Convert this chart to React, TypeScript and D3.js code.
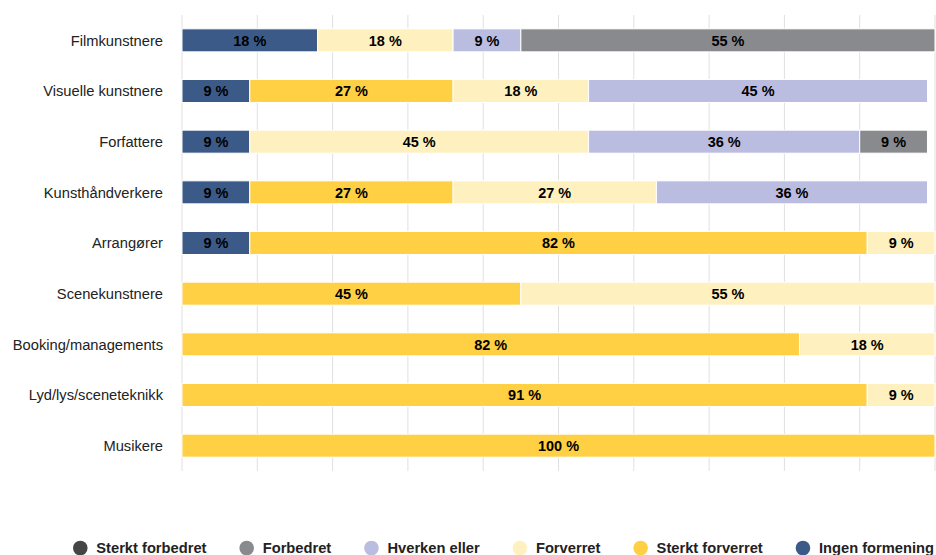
import React from "react";
import * as d3 from "d3";

const categories = [
  "Filmkunstnere",
  "Visuelle kunstnere",
  "Forfattere",
  "Kunsthåndverkere",
  "Arrangører",
  "Scenekunstnere",
  "Booking/managements",
  "Lyd/lys/sceneteknikk",
  "Musikere",
];

const ingenFormening = [18, 9, 9, 9, 9, 0, 0, 0, 0];
const sterktForverret = [0, 27, 0, 27, 82, 45, 82, 91, 100];
const forverret = [18, 18, 45, 27, 9, 55, 18, 9, 0];
const hverkenEller = [9, 45, 36, 36, 0, 0, 0, 0, 0];
const forbedret = [55, 0, 9, 0, 0, 0, 0, 0, 0];
const sterktForbedret = [0, 0, 0, 0, 0, 0, 0, 0, 0];

const stackKeys = [
  "Ingen formening",
  "Sterkt forverret",
  "Forverret",
  "Hverken eller",
  "Forbedret",
  "Sterkt forbedret",
];
const seriesValues: Record<string, number[]> = {
  "Ingen formening": ingenFormening,
  "Sterkt forverret": sterktForverret,
  Forverret: forverret,
  "Hverken eller": hverkenEller,
  Forbedret: forbedret,
  "Sterkt forbedret": sterktForbedret,
};
const legendOrder = [
  "Sterkt forbedret",
  "Forbedret",
  "Hverken eller",
  "Forverret",
  "Sterkt forverret",
  "Ingen formening",
];
const colors: Record<string, string> = {
  "Sterkt forbedret": "#454545",
  Forbedret: "#898a8e",
  "Hverken eller": "#babce0",
  Forverret: "#fff0bf",
  "Sterkt forverret": "#ffcf44",
  "Ingen formening": "#3b5a88",
};
const xTicks = [0, 10, 20, 30, 40, 50, 60, 70, 80, 90, 100];

const W = 936;
const H = 555;
const FONT = "'Liberation Sans', Arial, sans-serif";
const FS = 14.7;

function measure(text: string, font: string): number {
  const c = document.createElement("canvas");
  const ctx = c.getContext("2d");
  if (!ctx) return text.length * 8;
  ctx.font = font;
  return ctx.measureText(text).width;
}

export default function App() {
  const x = d3.scaleLinear().domain([0, 100]).range([182, 935]);
  const y = d3.scaleBand<string>().domain(categories).range([15, 471]).padding(0);
  const barH = 23;

  const rows = categories.map((c, i) => {
    const r: Record<string, any> = { category: c };
    stackKeys.forEach((k) => (r[k] = seriesValues[k][i]));
    return r;
  });
  const stacked = d3.stack<Record<string, any>>().keys(stackKeys)(rows);

  // legend layout
  const legendFont = `bold ${FS}px ${FONT}`;
  const r = 7.3;
  const textOff = 16;
  const widths = legendOrder.map((k) => measure(k, legendFont));
  const left = 73;
  const right = 934;
  const itemsW = widths.reduce((a, w) => a + textOff + r + w, 0) - r;
  const gap = (right - left - itemsW - r) / (legendOrder.length - 1);
  let cursor = left;
  const legendItems = legendOrder.map((k, i) => {
    const cx = cursor + r;
    const item = { key: k, cx, tx: cx + textOff };
    cursor = cx + textOff + widths[i] + gap;
    return item;
  });

  return (
    <svg
      width={W}
      height={H}
      style={{ position: "absolute", left: 0, top: 0, background: "#fff" }}
      fontFamily={FONT}
    >
      <g>
        {xTicks.map((t) => (
          <line
            key={t}
            x1={x(t)}
            x2={x(t)}
            y1={15}
            y2={471}
            stroke="#e0e0e0"
            strokeWidth={1}
          />
        ))}
      </g>
      <g>
        {stacked.map((s) =>
          s.map((d, i) => {
            const v = d[1] - d[0];
            if (v <= 0) return null;
            const cy = (y(categories[i]) as number) + y.bandwidth() / 2;
            return (
              <rect
                key={s.key + i}
                x={x(d[0])}
                y={cy - barH / 2}
                width={x(d[1]) - x(d[0])}
                height={barH}
                fill={colors[s.key]}
                stroke="#fff"
                strokeWidth={1}
              />
            );
          })
        )}
      </g>
      <g>
        {stacked.map((s) =>
          s.map((d, i) => {
            const v = d[1] - d[0];
            if (v <= 0) return null;
            const cy = (y(categories[i]) as number) + y.bandwidth() / 2;
            return (
              <text
                key={"t" + s.key + i}
                x={(x(d[0]) + x(d[1])) / 2}
                y={cy + 5.2}
                textAnchor="middle"
                fontWeight="bold"
                fontSize={FS * 0.985}
                fill="#000"
              >
                {`${v} %`}
              </text>
            );
          })
        )}
      </g>
      <g>
        {categories.map((c) => (
          <text
            key={c}
            x={163}
            y={(y(c) as number) + y.bandwidth() / 2 + 5.2}
            textAnchor="end"
            fontSize={FS}
            fill="#222"
          >
            {c}
          </text>
        ))}
      </g>
      <g>
        {legendItems.map((it) => (
          <g key={it.key}>
            <circle cx={it.cx} cy={548} r={r} fill={colors[it.key]} />
            <text x={it.tx} y={553.2} fontSize={FS} fontWeight="bold" fill="#222">
              {it.key}
            </text>
          </g>
        ))}
      </g>
    </svg>
  );
}
